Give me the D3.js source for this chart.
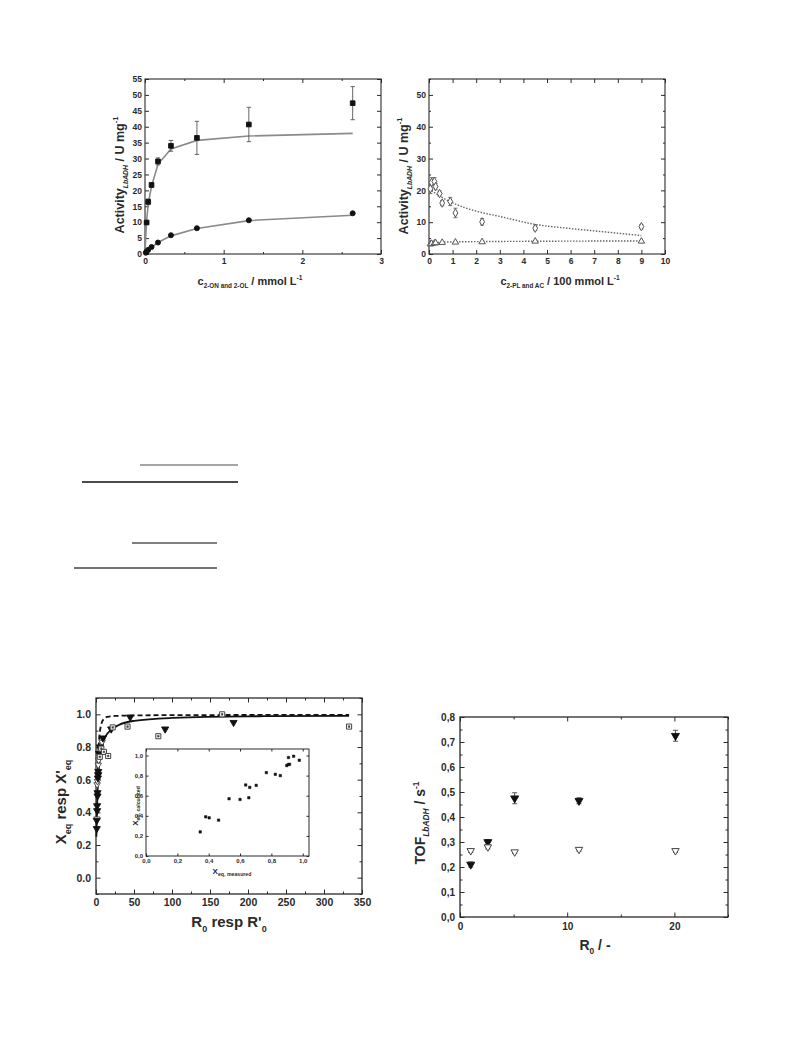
<!DOCTYPE html>
<html><head><meta charset="utf-8">
<script src="https://cdn.jsdelivr.net/npm/d3@7"></script>
<style>body{margin:0;background:#fff}</style>
</head><body>
<svg id="c" width="793" height="1057" xmlns="http://www.w3.org/2000/svg"></svg>
<script>
// ---------- DATA ----------
// Panel A (top-left): activity vs c(2-ON / 2-OL)
const aSquareX = [0.0206, 0.041, 0.083, 0.165, 0.33, 0.66, 1.32, 2.64];
const aSquareY = [9.9, 16.4, 21.7, 29.1, 34.0, 36.5, 40.7, 47.4];
const aSquareErr = [0.5, 0.9, 0.7, 1.1, 1.7, 5.2, 5.4, 5.2];
const aCircleX = [0.0103, 0.0206, 0.041, 0.083, 0.165, 0.33, 0.66, 1.32, 2.64];
const aCircleY = [0.4, 0.8, 1.3, 2.2, 3.6, 5.9, 8.1, 10.6, 12.8];
const aFitX = [0, 0.0103, 0.0206, 0.041, 0.083, 0.165, 0.33, 0.66, 1.32, 2.64];
const aFitSquare = [0, 5.8, 10.5, 15.8, 21.3, 28.2, 33.0, 35.7, 37.1, 37.9];
const aFitCircle = [0, 0.3, 0.6, 1.1, 2.1, 3.6, 5.7, 8.0, 10.5, 12.2];

// Panel B (top-right): activity vs c(2-PL / AC)
const bOpenX = [0.06, 0.11, 0.23, 0.28, 0.45, 0.56, 0.9, 1.12, 2.25, 4.5, 9.0];
const bOpenY = [20.5, 22.5, 22.8, 21.2, 19.0, 16.0, 16.5, 12.9, 10.1, 8.1, 8.6];
const bOpenErr = [1.5, 1.5, 1.2, 1.0, 0.8, 0.8, 1.3, 1.5, 1.0, 0.7, 0.7];
const bTriX = [0.06, 0.11, 0.23, 0.28, 0.56, 1.12, 2.25, 4.5, 9.0];
const bTriY = [3.1, 3.3, 3.4, 3.5, 3.6, 3.7, 3.8, 4.0, 4.0];
const bFitUpperX = [0, 0.5, 1, 1.5, 2.25, 3, 4.5, 6, 7.5, 9];
const bFitUpperY = [20.5, 18.0, 16.1, 14.6, 13.0, 11.8, 9.3, 8.0, 6.9, 5.8];
const bFitLowerX = [0, 1, 2.25, 4.5, 9];
const bFitLowerY = [3.5, 3.8, 3.9, 4.0, 4.1];

// Panel C (bottom-left): Xeq vs R0
const cFilledX = [1, 1, 1.5, 1.5, 2, 2, 2.5, 3, 3, 4, 5, 9, 20, 45, 91, 181];
const cFilledY = [0.30, 0.35, 0.41, 0.44, 0.50, 0.52, 0.61, 0.63, 0.65, 0.76, 0.80, 0.855, 0.91, 0.983, 0.91, 0.95];
const cOpenTriX = [1.2, 1.5, 2, 2.5, 3, 3.5, 4, 5, 6, 8];
const cOpenTriY = [0.36, 0.57, 0.59, 0.63, 0.69, 0.72, 0.76, 0.78, 0.80, 0.83];
const cSquareX = [5, 7, 10.5, 16, 22, 41.5, 82, 166, 333];
const cSquareY = [0.74, 0.79, 0.77, 0.745, 0.92, 0.925, 0.866, 1.0, 0.925];
const cDashX = [2, 3, 4, 5, 7, 10, 15, 25, 50, 100, 200, 333];
const cDashY = [0.6, 0.72, 0.84, 0.89, 0.94, 0.97, 0.985, 0.99, 0.993, 0.995, 0.996, 0.997];
const cSolidX = [0.5, 1, 2, 3, 5, 8, 12, 20, 30, 50, 100, 200, 333];
const cSolidY = [0.25, 0.35, 0.52, 0.62, 0.73, 0.80, 0.86, 0.905, 0.935, 0.96, 0.978, 0.988, 0.99];
// inset: calculated vs measured
const insetMeasured = [0.346, 0.381, 0.403, 0.463, 0.53, 0.60, 0.636, 0.656, 0.662, 0.703, 0.768, 0.825, 0.857, 0.898, 0.907, 0.916, 0.909, 0.942, 0.978];
const insetCalculated = [0.24, 0.39, 0.38, 0.357, 0.57, 0.563, 0.707, 0.58, 0.683, 0.703, 0.83, 0.813, 0.80, 0.90, 0.91, 0.913, 0.98, 0.993, 0.953];

// Panel D (bottom-right): TOF vs R0
const dX = [1, 2.6, 5.1, 11.1, 20.1];
const dFilledY = [0.21, 0.30, 0.475, 0.465, 0.725];
const dFilledErr = [0.01, 0.01, 0.022, 0.012, 0.022];
const dOpenY = [0.265, 0.28, 0.26, 0.27, 0.265];
const dOpenErr = [0.007, 0.008, 0.006, 0.007, 0.007];

// ---------- DRAWING ----------
const svg = d3.select('#c');
const FONT = "'Liberation Sans', Arial, Helvetica, sans-serif";
const INK = '#2a2a2a';

function panel(o) {
  const g = svg.append('g');
  const x = d3.scaleLinear().domain(o.xd).range([o.l, o.r]);
  const y = d3.scaleLinear().domain(o.yd).range([o.b, o.t]);
  const ts = o.tick, ms = o.minor;
  const style = sel => {
    sel.select('.domain').remove();
    sel.selectAll('line').attr('stroke', INK).attr('stroke-width', 1);
    sel.selectAll('text').attr('font-family', FONT).attr('font-weight', 'bold')
      .attr('font-size', o.fs).attr('fill', INK);
  };
  const ax = [
    [d3.axisBottom, `translate(0,${o.b})`, x, o.xt, o.xmin, true, o.xf, o.xpad],
    [d3.axisTop, `translate(0,${o.t})`, x, o.xt, o.xmin, false],
    [d3.axisLeft, `translate(${o.l},0)`, y, o.yt, o.ymin, true, o.yf, o.ypad],
    [d3.axisRight, `translate(${o.r},0)`, y, o.yt, o.ymin, false],
  ];
  ax.forEach(([fn, tr, sc, major, minor, lab, fmt, pad]) => {
    g.append('g').attr('transform', tr)
      .call(fn(sc).tickValues(major).tickSize(-ts).tickPadding(pad || 3)
        .tickFormat(lab ? (fmt || (d => d)) : ''))
      .call(style);
    if (minor) g.append('g').attr('transform', tr)
      .call(fn(sc).tickValues(minor).tickSize(-ms).tickFormat('')).call(style);
  });
  g.append('rect').attr('x', o.l).attr('y', o.t).attr('width', o.r - o.l).attr('height', o.b - o.t)
    .attr('fill', 'none').attr('stroke', INK).attr('stroke-width', o.sw || 1.1);
  return { g, x, y };
}

function rich(x, y, parts, fs, rotate, anchor) {
  const t = svg.append('text').attr('font-family', FONT).attr('font-weight', 'bold')
    .attr('font-size', fs).attr('fill', INK).attr('text-anchor', anchor || 'middle')
    .attr('transform', `translate(${x},${y})` + (rotate ? ' rotate(-90)' : ''));
  let shift = 0;
  parts.forEach(p => {
    const target = p.sub ? fs * 0.3 : p.sup ? -fs * 0.45 : 0;
    const ts = t.append('tspan').text(p.t).attr('dy', target - shift)
      .attr('font-size', (p.sub || p.sup) ? fs * (p.scale || 0.6) : fs);
    if (p.it) ts.attr('font-style', 'italic');
    shift = target;
  });
}

function errorBars(g, x, y, xs, ys, es, cap, color) {
  xs.forEach((xv, i) => {
    const e = es[i];
    const px = x(xv), y1 = y(ys[i] + e), y2 = y(ys[i] - e);
    g.append('line').attr('x1', px).attr('x2', px).attr('y1', y1).attr('y2', y2)
      .attr('stroke', color).attr('stroke-width', 0.9);
    [y1, y2].forEach(yy => g.append('line').attr('x1', px - cap).attr('x2', px + cap)
      .attr('y1', yy).attr('y2', yy).attr('stroke', color).attr('stroke-width', 0.9));
  });
}

function symbols(g, x, y, xs, ys, type, size, fill, stroke, rot, sw) {
  const sym = d3.symbol().type(type).size(size);
  xs.forEach((xv, i) => {
    g.append('path').attr('d', sym())
      .attr('transform', `translate(${x(xv)},${y(ys[i])})` + (rot ? ` rotate(${rot})` : ''))
      .attr('fill', fill).attr('stroke', stroke).attr('stroke-width', sw || 0.9);
  });
}

function line(g, x, y, xs, ys, color, w, dash, curve) {
  g.append('path').datum(xs.map((v, i) => [v, ys[i]]))
    .attr('d', d3.line().x(d => x(d[0])).y(d => y(d[1])).curve(curve || d3.curveLinear))
    .attr('fill', 'none').attr('stroke', color).attr('stroke-width', w)
    .attr('stroke-dasharray', dash || null);
}

// ----- Panel A -----
{
  const p = panel({ l: 145, r: 381, t: 79, b: 254, xd: [0, 3], yd: [0, 55],
    xt: [0, 1, 2, 3], xmin: [0.5, 1.5, 2.5], yt: d3.range(0, 56, 5), ymin: null,
    tick: 4, minor: 2, fs: 8.5, xpad: 4, ypad: 3 });
  line(p.g, p.x, p.y, aFitX, aFitSquare, '#8a8a8a', 1.6);
  line(p.g, p.x, p.y, aFitX, aFitCircle, '#8a8a8a', 1.6);
  errorBars(p.g, p.x, p.y, aSquareX, aSquareY, aSquareErr, 2.2, '#555');
  symbols(p.g, p.x, p.y, aSquareX, aSquareY, d3.symbolSquare, 22, '#111', '#111');
  symbols(p.g, p.x, p.y, aCircleX, aCircleY, d3.symbolCircle, 20, '#111', '#111');
  rich(124, 175, [{ t: 'Activity' }, { t: 'LbADH', sub: true, it: true, scale: 0.55 }, { t: ' / U mg' }, { t: '-1', sup: true }], 12.5, true);
  rich(250, 285, [{ t: 'c' }, { t: '2-ON and 2-OL', sub: true, scale: 0.58 }, { t: ' / mmol L' }, { t: '-1', sup: true }], 11);
}

// ----- Panel B -----
{
  const p = panel({ l: 429, r: 665, t: 79, b: 254, xd: [0, 10], yd: [0, 55],
    xt: d3.range(0, 11, 1), xmin: null, yt: [0, 10, 20, 30, 40, 50], ymin: [5, 15, 25, 35, 45, 55],
    tick: 4, minor: 2, fs: 8.5, xpad: 4, ypad: 3 });
  line(p.g, p.x, p.y, bFitUpperX, bFitUpperY, '#666', 1.4, '1.5,1.5', d3.curveMonotoneX);
  line(p.g, p.x, p.y, bFitLowerX, bFitLowerY, '#666', 1.4, '1.5,1.5', d3.curveMonotoneX);
  errorBars(p.g, p.x, p.y, bOpenX, bOpenY, bOpenErr, 2, '#666');
  symbols(p.g, p.x, p.y, bOpenX, bOpenY, d3.symbolDiamond, 20, '#fff', '#555', 0, 1);
  symbols(p.g, p.x, p.y, bTriX, bTriY, d3.symbolTriangle, 18, '#fff', '#555', 0, 1);
  rich(408, 176, [{ t: 'Activity' }, { t: 'LbADH', sub: true, it: true, scale: 0.55 }, { t: ' / U mg' }, { t: '-1', sup: true }], 12.5, true);
  rich(560, 285, [{ t: 'c' }, { t: '2-PL and AC', sub: true, scale: 0.58 }, { t: ' / 100 mmol L' }, { t: '-1', sup: true }], 11);
}

// ----- middle decorative rules -----
const ruleX1 = [140, 82, 132, 74];
const ruleX2 = [238, 238, 217, 217];
const ruleY = [465, 482, 543, 568];
const ruleColor = ['#888', '#111', '#555', '#444'];
ruleY.forEach((yy, i) => svg.append('line').attr('x1', ruleX1[i]).attr('x2', ruleX2[i])
  .attr('y1', yy).attr('y2', yy).attr('stroke', ruleColor[i]).attr('stroke-width', 1.4));

// ----- Panel C -----
{
  const p = panel({ l: 96, r: 362, t: 698, b: 894, xd: [0, 350], yd: [-0.1, 1.1],
    xt: d3.range(0, 351, 50), xmin: d3.range(25, 350, 50), yt: [0, 0.2, 0.4, 0.6, 0.8, 1.0],
    ymin: [-0.1, 0.1, 0.3, 0.5, 0.7, 0.9, 1.1], tick: 4.5, minor: 2.5, fs: 10.5, xpad: 5, ypad: 5,
    yf: d3.format('.1f'), sw: 1.3 });
  line(p.g, p.x, p.y, cSolidX, cSolidY, '#111', 1.8, null, d3.curveMonotoneX);
  line(p.g, p.x, p.y, cDashX, cDashY, '#111', 1.8, '5,3', d3.curveMonotoneX);
  symbols(p.g, p.x, p.y, cOpenTriX, cOpenTriY, d3.symbolTriangle, 18, '#fff', '#444', 180, 0.9);
  symbols(p.g, p.x, p.y, cFilledX, cFilledY, d3.symbolTriangle, 22, '#111', '#111', 180);
  symbols(p.g, p.x, p.y, cSquareX, cSquareY, d3.symbolSquare, 26, '#fff', '#444', 0, 1);
  symbols(p.g, p.x, p.y, cSquareX, cSquareY, d3.symbolSquare, 3, '#444', '#444', 0, 0.5);
  rich(66, 802, [{ t: 'X' }, { t: 'eq', sub: true }, { t: ' resp X\'' }, { t: 'eq', sub: true }], 15, true);
  rich(229, 927, [{ t: 'R' }, { t: '0', sub: true }, { t: ' resp R\'' }, { t: '0', sub: true }], 15);

  // inset
  const q = panel({ l: 146, r: 309, t: 749, b: 856, xd: [0, 1.04], yd: [0, 1.065],
    xt: [0, 0.2, 0.4, 0.6, 0.8, 1.0], xmin: null, yt: [0, 0.2, 0.4, 0.6, 0.8, 1.0], ymin: null,
    tick: 2.5, minor: 1.5, fs: 6, xpad: 3, ypad: 3, xf: d3.format('.1f'), yf: d3.format('.1f'), sw: 1 });
  q.g.selectAll('text').text(function () { return d3.select(this).text().replace('.', ','); });
  symbols(q.g, q.x, q.y, insetMeasured, insetCalculated, d3.symbolSquare, 6, '#111', '#111', 0, 0.5);
  rich(138, 806, [{ t: 'X' }, { t: 'eq, calculated', sub: true, scale: 0.65 }], 8, true);
  rich(232, 874, [{ t: 'X' }, { t: 'eq, measured', sub: true, scale: 0.65 }], 8);
}

// ----- Panel D -----
{
  const p = panel({ l: 460, r: 728, t: 717, b: 917, xd: [0, 25], yd: [0, 0.8],
    xt: [0, 10, 20], xmin: [5, 15, 25], yt: d3.range(0, 0.81, 0.1), ymin: d3.range(0.05, 0.8, 0.1),
    tick: 4.5, minor: 2.5, fs: 10, xpad: 6, ypad: 5, yf: d => d3.format('.1f')(d).replace('.', ','), sw: 1.3 });
  errorBars(p.g, p.x, p.y, dX, dFilledY, dFilledErr, 2.5, '#444');
  errorBars(p.g, p.x, p.y, dX, dOpenY, dOpenErr, 2.5, '#444');
  symbols(p.g, p.x, p.y, dX, dFilledY, d3.symbolTriangle, 28, '#111', '#111', 180);
  symbols(p.g, p.x, p.y, dX, dOpenY, d3.symbolTriangle, 24, '#fff', '#444', 180, 1);
  rich(425, 823, [{ t: 'TOF' }, { t: 'LbADH', sub: true, it: true }, { t: ' / s' }, { t: '-1', sup: true }], 14, true);
  rich(595, 950, [{ t: 'R' }, { t: '0', sub: true }, { t: ' / -' }], 14);
}
</script>
</body></html>
